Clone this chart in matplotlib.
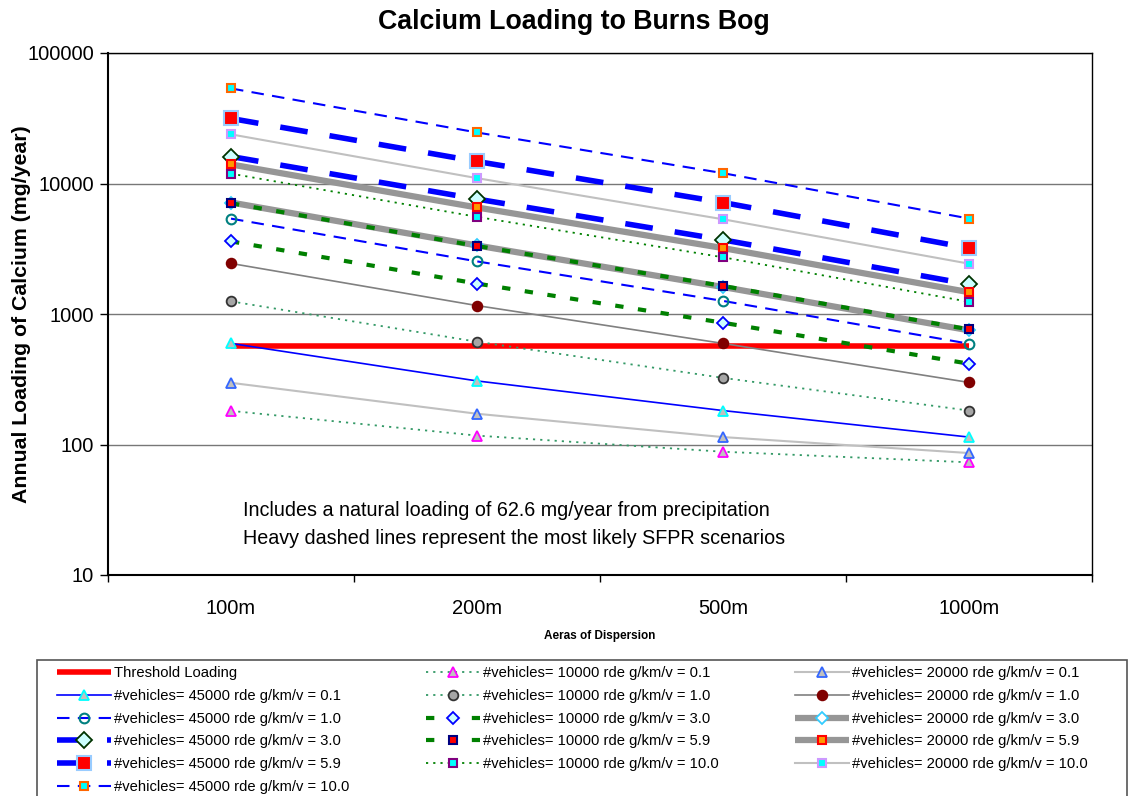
import matplotlib
matplotlib.use("Agg")
import matplotlib.pyplot as plt
from matplotlib.patches import Rectangle
from matplotlib.ticker import FixedLocator, NullLocator, NullFormatter

plt.rcParams["font.family"] = ["Liberation Sans", "DejaVu Sans"]

# ── data ─────────────────────────────────────────────────────────────────────
areas = ["100m", "200m", "500m", "1000m"]
threshold = [564, 564, 564, 564]

v45000_01 = [595, 307, 182, 114]
v45000_10 = [5380, 2530, 1260, 592]
v45000_30 = [16100, 7600, 3700, 1690]
v45000_59 = [31500, 14750, 7150, 3200]
v45000_100 = [53500, 24600, 12000, 5390]

v10000_01 = [181, 117, 88, 73]
v10000_10 = [1250, 613, 324, 182]
v10000_30 = [3600, 1710, 857, 416]
v10000_59 = [7060, 3320, 1640, 762]
v10000_100 = [11900, 5550, 2720, 1240]

v20000_01 = [297, 172, 114, 86]
v20000_10 = [2440, 1160, 595, 299]
v20000_30 = [7150, 3350, 1610, 750]
v20000_59 = [14000, 6550, 3200, 1470]
v20000_100 = [23800, 10990, 5320, 2430]

lbl = "#vehicles= {} rde g/km/v = {}"

W, H = 1131, 796
fig = plt.figure(figsize=(W / 100, H / 100), dpi=100)
ax = fig.add_axes([108 / W, 1 - 575 / H, (1092 - 108) / W, (575 - 53) / H])

x = list(range(len(areas)))

# line styles
thin_dash = (0, (6, 4))
thick_dash = (0, (5, 4))
green_dash = (0, (2, 3.5))
dots = (0, (1.2, 2.8))

h = {}
h["thr"], = ax.plot(x, threshold, color="#ff0000", lw=4, solid_capstyle="butt",
                    label="Threshold Loading")

# draw order follows the spreadsheet series order
h["10_01"], = ax.plot(x, v10000_01, color="#339966", lw=1.3, ls=dots, marker="^", ms=7,
                      mfc="#c0c0c0", mec="#ff00ff", mew=1.3, label=lbl.format(10000, "0.1"))
h["20_01"], = ax.plot(x, v20000_01, color="#c0c0c0", lw=1.5, marker="^", ms=7,
                      mfc="#c0c0c0", mec="#3366ff", mew=1.3, label=lbl.format(20000, "0.1"))
h["45_01"], = ax.plot(x, v45000_01, color="#0000ff", lw=1.2, marker="^", ms=7,
                      mfc="#c0c0c0", mec="#00ffff", mew=1.3, label=lbl.format(45000, "0.1"))

h["10_10"], = ax.plot(x, v10000_10, color="#339966", lw=1.3, ls=dots, marker="o", ms=7,
                      mfc="#a6a6a6", mec="#333333", mew=1.3, label=lbl.format(10000, "1.0"))
h["20_10"], = ax.plot(x, v20000_10, color="#808080", lw=1.2, marker="o", ms=7,
                      mfc="#800000", mec="#800000", mew=1.3, label=lbl.format(20000, "1.0"))
h["45_10"], = ax.plot(x, v45000_10, color="#0000ff", lw=1.5, ls=thin_dash, marker="o", ms=7,
                      mfc="none", mec="#008080", mew=1.5, label=lbl.format(45000, "1.0"))

h["10_30"], = ax.plot(x, v10000_30, color="#008000", lw=3, ls=green_dash, marker="D", ms=6,
                      mfc="#ccffff", mec="#0000ff", mew=1.3, label=lbl.format(10000, "3.0"))
h["20_30"], = ax.plot(x, v20000_30, color="#969696", lw=4.5, solid_capstyle="butt",
                      marker="D", ms=6, mfc="white", mec="#33ccff", mew=1.3,
                      label=lbl.format(20000, "3.0"))
h["45_30"], = ax.plot(x, v45000_30, color="#0000ff", lw=4, ls=thick_dash, marker="D", ms=8,
                      mfc="#ccffff", mec="#003300", mew=1.3, label=lbl.format(45000, "3.0"))

h["10_59"], = ax.plot(x, v10000_59, color="#008000", lw=3, ls=green_dash, marker="s", ms=6,
                      mfc="#ff0000", mec="#000080", mew=1.5, label=lbl.format(10000, "5.9"))
h["20_59"], = ax.plot(x, v20000_59, color="#969696", lw=4.5, solid_capstyle="butt",
                      marker="s", ms=6, mfc="#ff9900", mec="#ff0000", mew=1.5,
                      label=lbl.format(20000, "5.9"))
h["45_59"], = ax.plot(x, v45000_59, color="#0000ff", lw=4, ls=thick_dash, marker="s", ms=10,
                      mfc="#ff0000", mec="#99ccff", mew=1.5, label=lbl.format(45000, "5.9"))

h["10_100"], = ax.plot(x, v10000_100, color="#008000", lw=1.3, ls=dots, marker="s", ms=6,
                       mfc="#00ffff", mec="#800080", mew=1.5, label=lbl.format(10000, "10.0"))
h["20_100"], = ax.plot(x, v20000_100, color="#c0c0c0", lw=1.5, marker="s", ms=6,
                       mfc="#00ffff", mec="#cc99ff", mew=1.5, label=lbl.format(20000, "10.0"))
h["45_100"], = ax.plot(x, v45000_100, color="#0000ff", lw=1.5, ls=thin_dash, marker="s", ms=6,
                       mfc="#00ffff", mec="#ff6600", mew=1.5, label=lbl.format(45000, "10.0"))

# ── axes ─────────────────────────────────────────────────────────────────────
ax.set_yscale("log")
ax.set_ylim(10, 100000)
ax.set_xlim(-0.5, len(areas) - 0.5)
ax.yaxis.set_major_locator(FixedLocator([10, 100, 1000, 10000, 100000]))
ax.yaxis.set_major_formatter(matplotlib.ticker.FuncFormatter(lambda v, p: f"{v:.0f}"))
ax.yaxis.set_minor_locator(NullLocator())
ax.yaxis.set_minor_formatter(NullFormatter())
ax.tick_params(axis="y", direction="out", length=6, width=1, labelsize=14.5, pad=4)

ax.set_xticks([i - 0.5 for i in range(len(areas) + 1)])
ax.set_xticklabels([])
ax.set_xticks(x, minor=True)
ax.set_xticklabels(areas, minor=True)
ax.tick_params(axis="x", which="major", direction="out", length=5, width=1)
ax.tick_params(axis="x", which="minor", length=0, labelsize=14.5, pad=17)

ax.grid(axis="y", which="major", color="#777777", lw=1)
ax.set_axisbelow(True)
for s in ax.spines.values():
    s.set_color("black")
    s.set_linewidth(1)
ax.spines["left"].set_linewidth(1.5)
ax.spines["bottom"].set_linewidth(1.5)

# ── texts ────────────────────────────────────────────────────────────────────
fig.text(574 / W, 1 - 22 / H, "Calcium Loading to Burns Bog", ha="center", va="center",
         fontsize=19.3, fontweight="bold")
fig.text(22 / W, 1 - 314 / H, "Annual Loading of Calcium (mg/year)", rotation=90,
         ha="center", va="center", fontsize=15.3, fontweight="bold")
fig.text(600 / W, 1 - 636 / H, "Aeras of Dispersion", ha="center", va="center",
         fontsize=8.5, fontweight="bold")
fig.text(243 / W, 1 - 510 / H,
         "Includes a natural loading of 62.6 mg/year from precipitation",
         ha="left", va="center", fontsize=14.2)
fig.text(243 / W, 1 - 538 / H,
         "Heavy dashed lines represent the most likely SFPR scenarios",
         ha="left", va="center", fontsize=14.2)

# ── legend (frame drawn separately, it runs off the bottom edge) ─────────────
fig.patches.append(Rectangle((37 / W, -0.05), (1127 - 37) / W, 0.05 + 1 - 660 / H,
                             transform=fig.transFigure, fill=False,
                             edgecolor="#555555", lw=1.2))

order = ["thr", "45_01", "45_10", "45_30", "45_59", "45_100",
         "10_01", "10_10", "10_30", "10_59", "10_100",
         "20_01", "20_10", "20_30", "20_59", "20_100"]
handles = [h[k] for k in order]
leg = fig.legend(handles, [hh.get_label() for hh in handles], ncol=3,
                 loc="upper left", bbox_to_anchor=(57 / W, 1 - 666 / H),
                 fontsize=10.6, numpoints=1, handlelength=3.7, handletextpad=0.2,
                 columnspacing=5.15, labelspacing=0.6, borderpad=0,
                 frameon=False, borderaxespad=0)

fig.savefig("out.png", dpi=100)
